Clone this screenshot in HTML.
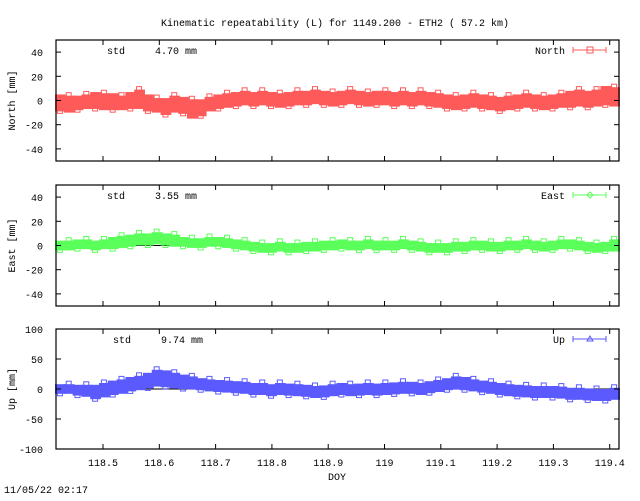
<!DOCTYPE html>
<html><head><meta charset="utf-8"><style>
body{margin:0;background:#fff}
svg text{font-family:"Liberation Mono",monospace;font-size:10px;fill:#000}
</style></head><body>
<svg id="c" width="640" height="496" xmlns="http://www.w3.org/2000/svg">
<text x="335" y="26" text-anchor="middle">Kinematic repeatability (L) for 1149.200 - ETH2  ( 57.2 km)</text>
<text x="337" y="480" text-anchor="middle">DOY</text>
<text x="4" y="493">11/05/22 02:17</text>
</svg>
<script>
const xTicks=[118.5,118.6,118.7,118.8,118.9,119,119.1,119.2,119.3,119.4];
const xTickLabels=["118.5","118.6","118.7","118.8","118.9","119","119.1","119.2","119.3","119.4"];
const northCenter=[-2,-3,-2,-1,0,-1,-1,-2,0,1,-2,-4,-5,-3,-4,-7,-6,-3,-1,0,1,2,1,2,1,0,1,2,2,3,2,1,2,3,2,1,2,2,1,2,1,2,1,0,-1,-2,-1,0,-1,-2,-3,-2,-1,0,-1,-2,-1,0,1,2,1,2,4,3];
const northSpread=[7,7,6,6,7,7,7,6,7,8,7,6,7,7,7,8,7,6,6,6,6,6,6,6,6,6,6,6,6,6,6,6,6,6,6,6,6,6,6,6,6,6,6,6,6,6,6,6,6,6,6,6,6,6,6,6,6,6,7,7,7,7,8,8];
const eastCenter=[0,0,1,1,0,1,2,3,4,5,5,6,5,4,3,2,2,3,3,2,1,0,-1,-2,-2,-1,-2,-2,-1,-1,0,0,1,0,0,1,0,0,0,1,0,-1,-2,-2,-2,-1,-1,0,0,-1,-1,0,0,1,0,-1,0,1,1,0,-1,-2,-1,0];
const eastSpread=[4,4,4,4,4,4,5,5,5,5,5,5,5,5,4,4,4,4,4,4,4,4,4,4,4,4,4,4,4,4,4,4,4,4,4,4,4,4,4,4,4,4,4,4,4,4,4,4,4,4,4,4,4,4,4,4,4,4,4,4,4,4,4,5];
const upCenter=[0,0,-2,-3,-5,-2,2,4,8,10,14,18,17,14,12,10,8,6,5,4,3,2,0,0,-2,0,-1,-2,-3,-5,-4,-2,0,-2,-1,0,-1,0,1,2,2,0,3,5,8,10,9,6,4,2,0,-2,-3,-4,-5,-5,-5,-6,-8,-8,-9,-10,-10,-8];
const upSpread=[8,8,9,10,12,12,12,12,12,12,13,14,14,13,12,11,10,10,10,10,10,10,10,10,10,10,10,10,10,10,10,10,10,10,10,10,10,10,10,10,10,10,10,10,10,11,11,10,10,10,10,10,10,10,10,10,10,10,10,10,10,10,10,10];
const northYTicks=[40,20,0,-20,-40];
const eastYTicks=[40,20,0,-20,-40];
const upYTicks=[100,50,0,-50,-100];

const NS="http://www.w3.org/2000/svg";
const svg=document.getElementById('c');
const X0=56,X1=619,D0=118.4165,D1=119.4165;
function xs(d){return X0+(d-D0)/(D1-D0)*(X1-X0);}
function mk(tag,attrs,parent){const e=document.createElementNS(NS,tag);for(const k in attrs)e.setAttribute(k,attrs[k]);(parent||svg).appendChild(e);return e;}

function panel(cfg){
  const {top,bot,ymin,ymax,center,spread,color,yticks,title,legend,std,stdX,marker,key}=cfg;
  const ys=v=>bot-(v-ymin)/(ymax-ymin)*(bot-top);
  const g=mk('g',{});
  
  
  const z=mk('line',{x1:X0,x2:X1,y1:ys(0),y2:ys(0),stroke:'#000','stroke-width':1},g);
  
  
  const n=center.length,bw=(X1-X0)/n;
  const sg=mk('g',{},g);
  
  
  for(let i=0;i<n;i++){
    const d=D0+(i+0.5)/n*(D1-D0);
    const cx=xs(d);
    const hi=ys(center[i]+spread[i]),lo=ys(center[i]-spread[i]);
    const r=mk('rect',{x:cx-bw/2-1,y:hi,width:bw+2,height:lo-hi,fill:color},sg);
    
    
    const m=mk('rect',{x:cx-3,y:(i%2?hi:lo)-3,width:5,height:5,fill:'none',stroke:color},sg);
    
    
  }
  const f=mk('rect',{x:X0,y:top,width:X1-X0,height:bot-top,fill:'none',stroke:'#000','stroke-width':1.2},g);
  
  
  yticks.forEach(v=>{
    const y=ys(v);
    mk('line',{x1:X0,x2:X0+5,y1:y,y2:y,stroke:'#000'},g);
    mk('line',{x1:X1-5,x2:X1,y1:y,y2:y,stroke:'#000'},g);
    const t=mk('text',{x:X0-13,y:y+4,'text-anchor':'end'},g);
    t.textContent=String(v);
    
    
  });
  xTicks.forEach(v=>{
    const x=xs(v);
    mk('line',{x1:x,x2:x,y1:bot,y2:bot-5,stroke:'#000'},g);
    mk('line',{x1:x,x2:x,y1:top,y2:top+5,stroke:'#000'},g);
  });
  const yt=mk('text',{x:0,y:0,transform:`translate(15,${(top+bot)/2}) rotate(-90)`,'text-anchor':'middle'},g);
  yt.textContent=title;
  
  
  const s1=mk('text',{x:stdX,y:top+14},g);s1.textContent='std';
  
  
  const s2=mk('text',{x:stdX+48,y:top+14},g);s2.textContent=std;
  
  
  const ly=top+10;
  const lt=mk('text',{x:565,y:ly+4,'text-anchor':'end'},g);lt.textContent=legend;
  
  
  mk('line',{x1:573,x2:606,y1:ly,y2:ly,stroke:color},g);
  mk('line',{x1:573,x2:573,y1:ly-3,y2:ly+3,stroke:color},g);
  mk('line',{x1:606,x2:606,y1:ly-3,y2:ly+3,stroke:color},g);
  if(marker==='sq')mk('rect',{x:587,y:ly-3,width:6,height:6,fill:'none',stroke:color},g);
  else if(marker==='di')mk('path',{d:`M590 ${ly-3}L593 ${ly}L590 ${ly+3}L587 ${ly}Z`,fill:'none',stroke:color},g);
  else mk('path',{d:`M590 ${ly-3}L593 ${ly+2}L587 ${ly+2}Z`,fill:'none',stroke:color},g);
}
panel({key:'north',top:40,bot:161,ymin:-50,ymax:50,center:northCenter,spread:northSpread,color:'#ff5a5a',yticks:northYTicks,title:'North [mm]',legend:'North',std:'4.70 mm',stdX:107,marker:'sq'});
panel({key:'east',top:185,bot:306,ymin:-50,ymax:50,center:eastCenter,spread:eastSpread,color:'#5aff5a',yticks:eastYTicks,title:'East [mm]',legend:'East',std:'3.55 mm',stdX:107,marker:'di'});
panel({key:'up',top:329,bot:449,ymin:-100,ymax:100,center:upCenter,spread:upSpread,color:'#5a5aff',yticks:upYTicks,title:'Up [mm]',legend:'Up',std:'9.74 mm',stdX:113,marker:'tr'});
xTicks.forEach((v,i)=>{
  const t=mk('text',{x:xs(v),y:466,'text-anchor':'middle'});
  t.textContent=xTickLabels[i];
  
  
});
</script>
</body></html>
